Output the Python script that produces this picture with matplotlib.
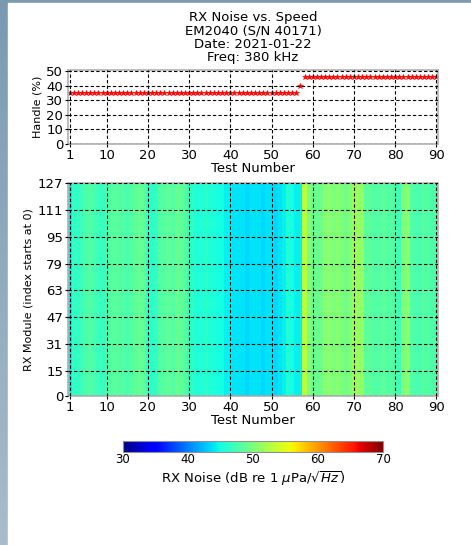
import matplotlib
matplotlib.use('Agg')
import matplotlib.pyplot as plt
import numpy as np
from matplotlib.colors import LinearSegmentedColormap
from matplotlib.patches import Rectangle

W, H = 471, 545

title_lines = ['RX Noise vs. Speed', 'EM2040 (S/N 40171)', 'Date: 2021-01-22', 'Freq: 380 kHz']

tests = np.arange(1, 91)
handle = [35] * 56 + [40] + [46] * 33
n_modules = 128

# mean noise per test (dB)
noise = [44.5, 46.5, 46.5, 47, 47.5, 48, 47.5, 47, 46.5, 47.5,
         48, 48.5, 48, 48, 47.5, 48, 48.5, 49, 48.5, 47,
         46, 46.5, 48, 48, 48.5, 48, 49, 48.5, 48, 46.5,
         46, 45.5, 45.5, 46, 45.5, 45.5, 45, 45, 44.5, 44.5,
         44, 44, 44, 43.5, 44, 44, 44, 43.5, 44, 44,
         43.5, 44, 44.5, 45.5, 45, 44.5, 44.5, 53, 50, 49,
         49, 49.5, 50.5, 50.5, 50, 50.5, 50, 49.5, 50, 51.5,
         51.5, 51, 48.5, 48.5, 48, 48, 48.5, 48, 48, 47.5,
         47, 50, 50.5, 48, 47.5, 47.5, 48, 48, 47.5, 48]

xticks = [1, 10, 20, 30, 40, 50, 60, 70, 80, 90]
handle_ticks = [0, 10, 20, 30, 40, 50]
module_ticks = [0, 15, 31, 47, 63, 79, 95, 111, 127]
cbar_ticks = [30, 40, 50, 60, 70]

FS = 9.5
plt.rcParams['font.family'] = 'DejaVu Sans'

fig = plt.figure(figsize=(W / 100, H / 100), dpi=100)


def px(l, t, r, b):
    return [l / W, 1 - b / H, (r - l) / W, (b - t) / H]


# background frame
bg = fig.add_axes([0, 0, 1, 1], zorder=-10)
bg_cmap = LinearSegmentedColormap.from_list('bg', ['#7a9ab1', '#a8bccb'])
bg.imshow(np.linspace(0, 1, 100)[:, None], cmap=bg_cmap, aspect='auto', extent=[0, 1, 0, 1])
bg.add_patch(Rectangle((8 / W, 0), 1, 1 - 3 / H, color='white', transform=bg.transAxes))
bg.set_xlim(0, 1)
bg.set_ylim(0, 1)
bg.axis('off')

for i, line in enumerate(title_lines):
    fig.text(253 / W, 1 - (18 + 13 * i) / H, line, ha='center', va='center', fontsize=FS)

grid_kw = dict(color='black', linestyle=(0, (3, 2)), linewidth=0.8)


def style(ax):
    for s in ax.spines.values():
        s.set_color('#b0b0b0')
        s.set_linewidth(1.2)
    ax.tick_params(length=2, width=0.8, labelsize=FS, pad=1.5)
    ax.grid(True, **grid_kw)
    ax.set_axisbelow(False)


# handle panel
ax1 = fig.add_axes(px(68, 70, 438, 144))
ax1.plot(tests, handle, '*', color='red', markersize=3.8, markeredgewidth=0.4)
ax1.set_xlim(0.6, 90.4)
ax1.set_ylim(0, 51)
ax1.set_xticks(xticks)
ax1.set_yticks(handle_ticks)
ax1.set_xlabel('Test Number', fontsize=FS, labelpad=0)
ax1.set_ylabel('Handle (%)', fontsize=8, labelpad=3)
style(ax1)

# noise heatmap
ax2 = fig.add_axes(px(68, 183, 438, 396))
grid = np.tile(np.array(noise), (n_modules, 1))
im = ax2.imshow(grid, cmap='jet', vmin=30, vmax=70, aspect='auto', origin='lower',
                extent=[0.5, 90.5, 0, 127], interpolation='nearest')
ax2.set_xlim(0.6, 90.4)
ax2.set_ylim(0, 127)
ax2.set_xticks(xticks)
ax2.set_yticks(module_ticks)
ax2.set_xlabel('Test Number', fontsize=FS, labelpad=0)
ax2.set_ylabel('RX Module (index starts at 0)', fontsize=8, labelpad=3)
style(ax2)

cax = fig.add_axes(px(123, 441, 383, 452))
cb = fig.colorbar(im, cax=cax, orientation='horizontal', ticks=cbar_ticks)
cb.outline.set_edgecolor('#909090')
cax.tick_params(length=0, labelsize=8.5, pad=1)
cb.set_label(r'RX Noise (dB re 1 $\mu$Pa/$\sqrt{Hz}$)', fontsize=FS, labelpad=2)

fig.savefig('out.png', dpi=100)
